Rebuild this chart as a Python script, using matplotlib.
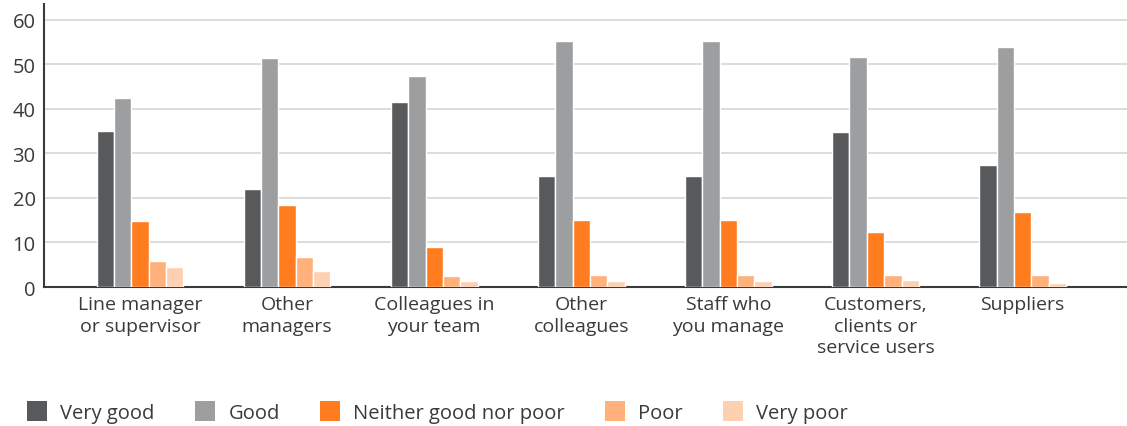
import numpy as np
import matplotlib
matplotlib.use('Agg')
import matplotlib.pyplot as plt
import matplotlib.patches as mpatches

plt.rcParams['font.family'] = ['Open Sans', 'DejaVu Sans']

categories = ['Line manager\nor supervisor', 'Other\nmanagers', 'Colleagues in\nyour team',
              'Other\ncolleagues', 'Staff who\nyou manage', 'Customers,\nclients or\nservice users',
              'Suppliers']
series_names = ['Very good', 'Good', 'Neither good nor poor', 'Poor', 'Very poor']

very_good = [35.0, 21.9, 41.5, 24.9, 24.9, 34.8, 27.3]
good = [42.4, 51.4, 47.3, 55.2, 55.2, 51.6, 53.9]
neither = [14.8, 18.4, 8.9, 15.0, 15.0, 12.3, 16.8]
poor = [5.8, 6.7, 2.4, 2.8, 2.8, 2.8, 2.6]
very_poor = [4.6, 3.5, 1.3, 1.3, 1.3, 1.5, 1.0]

colours = ['#58595b', '#9d9ea0', '#ff7d1e', '#ffb07b', '#fdd0b2']
series = [very_good, good, neither, poor, very_poor]

fig = plt.figure(figsize=(11.27, 4.27), dpi=100)
ax = fig.add_axes([0.039, 0.3255, 0.961, 0.6625])

x = np.arange(len(categories))
step = 0.118
for i, (vals, col) in enumerate(zip(series, colours)):
    ax.bar(x + (i - 2) * step, vals, width=step, color=col, edgecolor='white',
           linewidth=1.0, zorder=3)

ax.set_xlim(-0.653, 6.71)
ax.set_ylim(0, 63.5)
ax.set_yticks(range(0, 61, 10))
ax.yaxis.grid(True, color='#d9d9d9', linewidth=1.3, zorder=0)
ax.set_axisbelow(True)
for s in ['top', 'right']:
    ax.spines[s].set_visible(False)
for s in ['left', 'bottom']:
    ax.spines[s].set_color('#3a3a3a')
    ax.spines[s].set_linewidth(1.5)
ax.tick_params(axis='both', length=0, colors='#3a3a3a')
ax.tick_params(axis='y', pad=6, labelsize=14.5)
ax.tick_params(axis='x', pad=6, labelsize=14)
ax.set_xticks(x)
ax.set_xticklabels(categories, linespacing=1.25)

handles = [mpatches.Patch(facecolor=c, label=n) for c, n in zip(colours, series_names)]
fig.legend(handles=handles, ncol=5, loc='lower left', bbox_to_anchor=(0.008, -0.035),
           frameon=False, fontsize=14.5, handlelength=1.0, handleheight=1.15,
           columnspacing=2.0, handletextpad=0.65, labelcolor='#3a3a3a')

fig.savefig('out.png', dpi=100)
